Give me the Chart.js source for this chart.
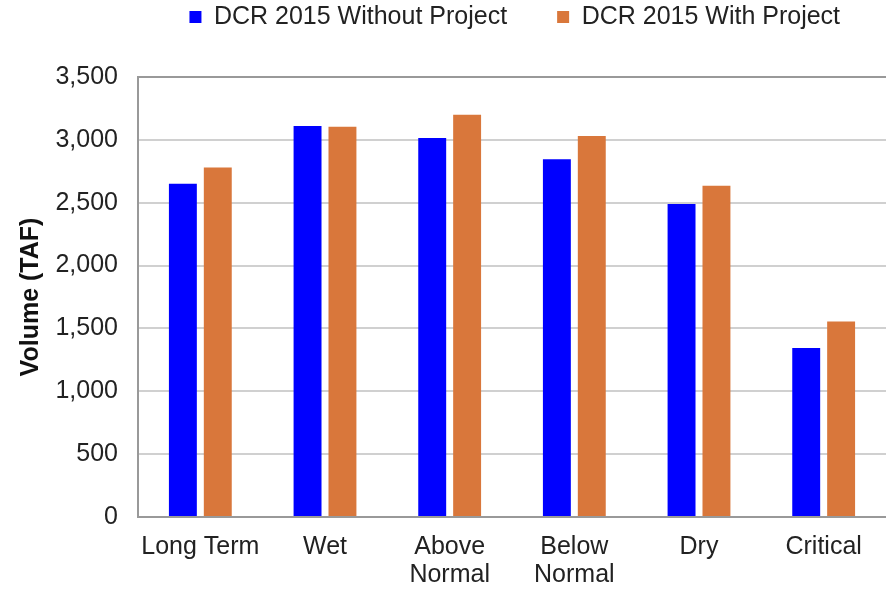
<!DOCTYPE html>
<html>
<head>
<meta charset="utf-8">
<script src="https://cdn.jsdelivr.net/npm/chart.js@4"></script>
<style>
  html, body { margin: 0; padding: 0; background: #fff; }
  #wrap { width: 886px; height: 589px; }
</style>
</head>
<body>
<div id="wrap"><canvas id="myChart"></canvas></div>
<script>
let categories = ['Long Term', 'Wet', ['Above', 'Normal'], ['Below', 'Normal'], 'Dry', 'Critical']
let withoutProject = [2650, 3110, 3015, 2845, 2490, 1345]
let withProject = [2780, 3105, 3200, 3030, 2635, 1555]
let yTicks = [0, 500, 1000, 1500, 2000, 2500, 3000, 3500]

let font = 'Liberation Sans, Arial, sans-serif'

// extra room under the legend, and legend shifted over the plot
let legendGap = {
  id: 'legendGap',
  beforeInit(chart) {
    let fit = chart.legend.fit
    chart.legend.fit = function () {
      fit.bind(chart.legend)()
      this.height += 37.5
    }
  },
  afterLayout(chart) {
    chart.legend.left = chart.chartArea.left - 56.5
    chart.legend.right = chart.chartArea.right + 62
  }
}

var ctx = document.getElementById('myChart').getContext('2d');
var chart = new Chart(ctx, {
  type: 'bar',
  data: {
    labels: categories,
    datasets: [{
      label: 'DCR 2015 Without Project',
      backgroundColor: '#0000ff',
      data: withoutProject
    }, {
      label: 'DCR 2015 With Project',
      backgroundColor: '#d9773b',
      data: withProject
    }]
  },
  options: {
    responsive: true,
    maintainAspectRatio: false,
    animation: false,
    categoryPercentage: 0.56,
    barPercentage: 0.8,
    layout: { padding: { top: -45.5, left: 16, right: -2, bottom: 0 } },
    plugins: {
      legend: {
        labels: {
          boxWidth: 12,
          boxHeight: 12,
          padding: 50,
          color: '#222',
          font: { family: font, size: 25 }
        }
      },
      tooltip: { enabled: false }
    },
    scales: {
      x: {
        afterFit(axis) { axis.height = 72 },
        grid: { display: false },
        border: { display: true, color: '#999', width: 2 },
        ticks: {
          color: '#222',
          padding: 8,
          maxRotation: 0,
          font: { family: font, size: 25, lineHeight: '28px' }
        }
      },
      y: {
        min: 0,
        max: 3500,
        afterFit(axis) { axis.width = 122 },
        afterBuildTicks(axis) {
          axis.ticks = yTicks.map(v => ({ value: v }))
        },
        grid: {
          drawTicks: false,
          lineWidth: 2,
          color: c => c.tick && c.tick.value === 3500 ? '#999' : '#d0d0d0'
        },
        border: { display: true, color: '#999', width: 2 },
        ticks: {
          color: '#222',
          padding: 20,
          font: { family: font, size: 25 },
          callback: v => v.toLocaleString('en-US')
        },
        title: {
          display: true,
          text: 'Volume (TAF)',
          color: '#111',
          padding: { top: 0, bottom: 0 },
          font: { family: font, size: 25, weight: 'bold' }
        }
      }
    }
  },
  plugins: [legendGap]
});
</script>
</body>
</html>
